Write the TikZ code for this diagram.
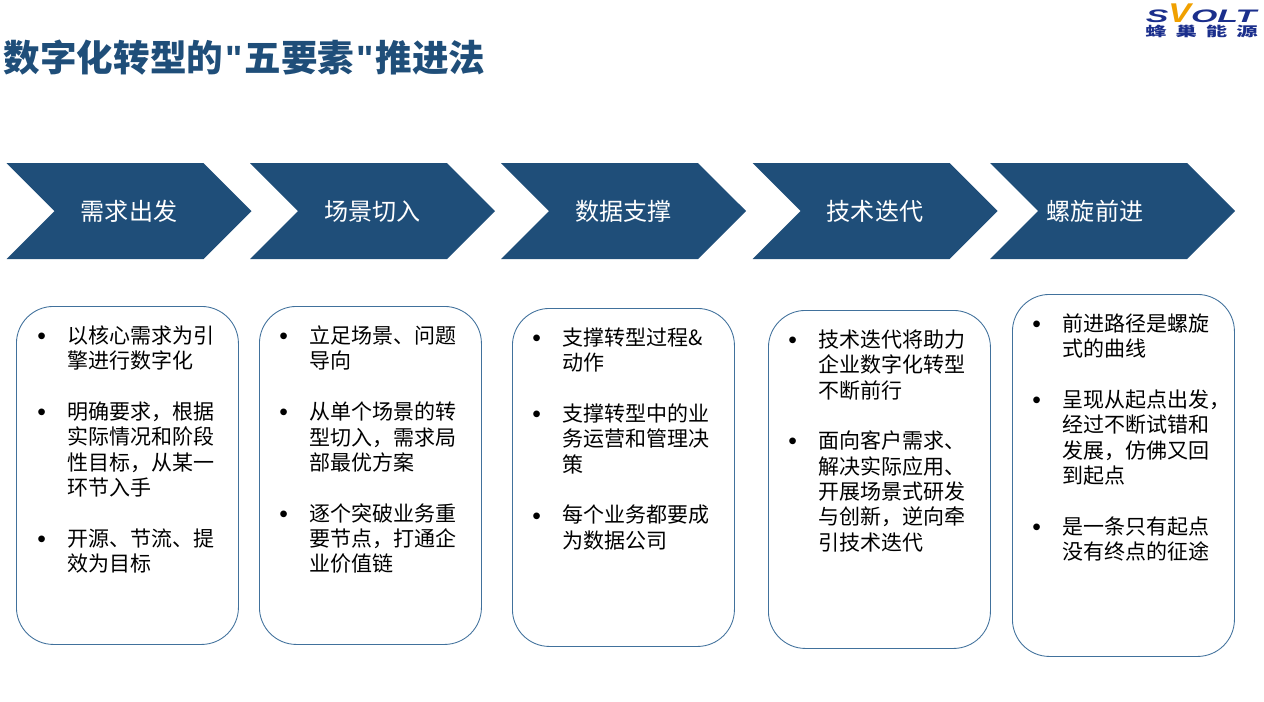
\documentclass[tikz,border=0pt]{standalone}
\usepackage{graphicx}
\usepackage{fontspec}
\setmainfont{Noto Sans CJK SC}
\newfontfamily\logofont{Liberation Sans}
\usetikzlibrary{shapes.symbols}
\definecolor{stepblue}{HTML}{1F4E79}
\definecolor{boxline}{HTML}{41719C}
\definecolor{logoblue}{HTML}{1B2F8C}
\definecolor{logoorange}{HTML}{F0A000}
\newcommand{\blt}{\leavevmode\llap{{\logofont\fontsize{14pt}{14pt}\selectfont\raisebox{-0.6pt}{\textbullet}}\hspace{12.2pt}}}
\newcommand{\qt}{\hspace{1.2pt}{\logofont\bfseries"}\hspace{1.2pt}}
\tikzset{
  chevron/.style={ signal, signal to=east, signal from=west, signal pointer angle=90, fill=stepblue,
    minimum height=96*0.02cm, minimum width=245*0.02cm, inner sep=0pt, text=white, font=\fontsize{13.7pt}{16pt}\selectfont }
}
\tikzset{
  chevlabel/.style={ text=white, inner sep=0pt, font=\fontsize{13.7pt}{16pt}\selectfont }
}
\tikzset{
  roundbox/.style={ draw=boxline, line width=0.5pt, rounded corners=37*0.02cm, minimum width=222*0.02cm, anchor=north west, inner sep=0pt }
}
\tikzset{
  bodytext/.style={ anchor=north west, align=left, inner sep=0pt, text=black, font=\fontsize{11.95pt}{14.4pt}\selectfont }
}
\begin{document}
\begin{tikzpicture}[x=0.02cm, y=-0.02cm]
  \useasboundingbox (0, 0) rectangle (1264, 701);
  \node[anchor=west, inner sep=0pt, text=stepblue, font=\fontsize{20.8pt}{24pt}\selectfont\bfseries] (title) at (3.5, 58) {数字化转型的\qt 五要素\qt 推进法};

  \node[anchor=base, inner sep=0pt, xscale=1.87, text=logoblue, font=\logofont\fontsize{10.3pt}{12pt}\selectfont\bfseries\itshape] (logoname) at (1201, 22) {S{\color{logoorange}\scalebox{1}[1.5]{V}}OLT};
  \node[inner sep=0pt, xscale=1.6, text=logoblue, font=\fontsize{7.6pt}{9pt}\selectfont\bfseries\addfontfeature{LetterSpace=42}] (logocn) at (1201.5, 31) {蜂巢能源};

  \node[chevron] (need) at (129, 211) {需求出发};
  \node[chevron] (scene) at (372.5, 211) {场景切入};
  \node[chevron] (data) at (623.5, 211) {数据支撑};
  \node[chevron] (tech) at (875, 211) {技术迭代};
  \node[chevron] (spiral) at (1112.5, 211) {};
  \node[chevlabel] (spirallabel) at (1095, 211) {螺旋前进};

  \node[roundbox, minimum height=338*0.02cm] (needbox) at (16, 306) {};
  \node[roundbox, minimum height=338*0.02cm] (scenebox) at (259, 306) {};
  \node[roundbox, minimum height=338*0.02cm] (databox) at (512, 308) {};
  \node[roundbox, minimum height=338*0.02cm] (techbox) at (768, 310) {};
  \node[roundbox, minimum height=362*0.02cm] (spiralbox) at (1012, 294) {};

  \node[bodytext] (needtext) at (67, 325.5) {\blt 以核心需求为引\\擎进行数字化\\[14.5pt]
    \blt 明确要求，根据\\实际情况和阶段\\性目标，从某一\\环节入手\\[14.5pt]
    \blt 开源、节流、提\\效为目标};
  \node[bodytext] (scenetext) at (309, 325.5) {\blt 立足场景、问题\\导向\\[14.5pt]
    \blt 从单个场景的转\\型切入，需求局\\部最优方案\\[14.5pt]
    \blt 逐个突破业务重\\要节点，打通企\\业价值链};
  \node[bodytext] (datatext) at (562, 327.5) {\blt 支撑转型过程\&\\动作\\[14.5pt]
    \blt 支撑转型中的业\\务运营和管理决\\策\\[14.5pt]
    \blt 每个业务都要成\\为数据公司};
  \node[bodytext] (techtext) at (818, 329.5) {\blt 技术迭代将助力\\企业数字化转型\\不断前行\\[14.5pt]
    \blt 面向客户需求、\\解决实际应用、\\开展场景式研发\\与创新，逆向牵\\引技术迭代};
  \node[bodytext] (spiraltext) at (1062, 313.5) {\blt 前进路径是螺旋\\式的曲线\\[14.5pt]
    \blt 呈现从起点出发，\\经过不断试错和\\发展，仿佛又回\\到起点\\[14.5pt]
    \blt 是一条只有起点\\没有终点的征途};
\end{tikzpicture}
\end{document}
